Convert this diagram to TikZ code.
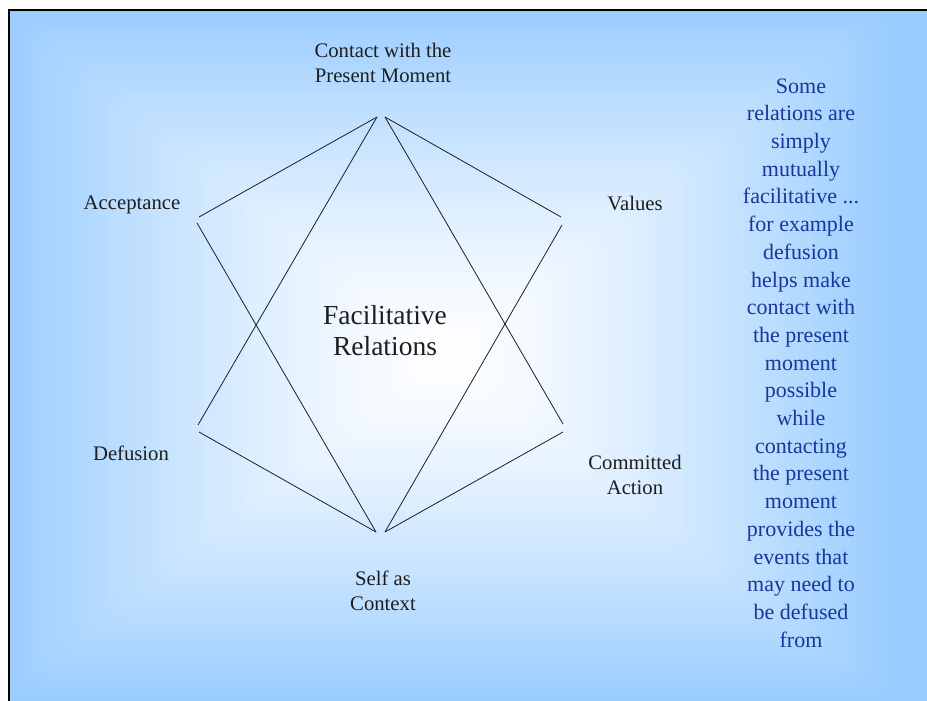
\documentclass[tikz,border=0pt]{standalone}
\usepackage{fontspec}
\setmainfont{Liberation Serif}
\definecolor{slideblue}{RGB}{153,204,255}
\definecolor{notenavy}{RGB}{25,55,155}
\definecolor{inkgray}{RGB}{30,30,30}
\tikzset{
    label text/.style={text=inkgray, align=center, font=\fontsize{20.7}{25}\selectfont},
    facet line/.style={draw=inkgray, line width=0.8pt},
    note text/.style={text=notenavy, align=center, font=\fontsize{22}{27.7}\selectfont}
}
\begin{document}
\begin{tikzpicture}[x=1pt, y=-1pt]
        % Background
        \useasboundingbox (0,0) rectangle (927,701);
        \fill[white] (0,0) rectangle (927,701);
        \fill[slideblue] (9,10) rectangle (927,701);
        \begin{scope}
            \clip (9,10) rectangle (927,701);
            \foreach \i in {0,...,59} {
                \pgfmathsetmacro\xa{445-450*(1-\i/60)}
                \pgfmathsetmacro\xb{445+450*(1-\i/60)}
                \pgfmathsetmacro\ya{355-350*(1-\i/60)}
                \pgfmathsetmacro\yb{355+350*(1-\i/60)}
                \pgfmathsetmacro\mix{100*(1-\i/60)^1.3}
                \fill[slideblue!\mix!white, rounded corners=20pt] (\xa,\ya) rectangle (\xb,\yb);
            }
        \end{scope}
        \draw[line width=2pt] (9,701) -- (9,10) -- (927,10);

        % Nodes
        \node[label text] (Contact) at (383, 63) {Contact with the\\Present Moment};
        \node[label text] (Acceptance) at (132, 205) {Acceptance};
        \node[label text] (Values) at (635, 203) {Values};
        \node[label text] (Defusion) at (131, 453) {Defusion};
        \node[label text] (Committed) at (635, 475) {Committed\\Action};
        \node[label text] (SelfContext) at (383, 591) {Self as\\Context};
        \node[label text, font=\fontsize{27.5}{31}\selectfont] (Facilitative) at (385, 331) {Facilitative\\Relations};
        \node[note text] (Note) at (801, 363) {Some\\relations are\\simply\\mutually\\facilitative ...\\for example\\defusion\\helps make\\contact with\\the present\\moment\\possible\\while\\contacting\\the present\\moment\\provides the\\events that\\may need to\\be defused\\from};

        % Line ends
        \coordinate (TopL) at (377, 117);
        \coordinate (TopR) at (385, 117);
        \coordinate (BotL) at (376, 532);
        \coordinate (BotR) at (385, 532);
        \coordinate (AccA) at (199, 217);
        \coordinate (AccB) at (197, 223);
        \coordinate (DefA) at (198, 425);
        \coordinate (DefB) at (199, 432);
        \coordinate (ValA) at (561, 217);
        \coordinate (ValB) at (562, 225);
        \coordinate (ComA) at (563, 424);
        \coordinate (ComB) at (563, 432);

        % Lines
        \draw[facet line] (TopL) -- (AccA);
        \draw[facet line] (TopL) -- (DefA);
        \draw[facet line] (TopR) -- (ValA);
        \draw[facet line] (TopR) -- (ComA);
        \draw[facet line] (BotL) -- (AccB);
        \draw[facet line] (BotL) -- (DefB);
        \draw[facet line] (BotR) -- (ValB);
        \draw[facet line] (BotR) -- (ComB);
    \end{tikzpicture}
\end{document}
